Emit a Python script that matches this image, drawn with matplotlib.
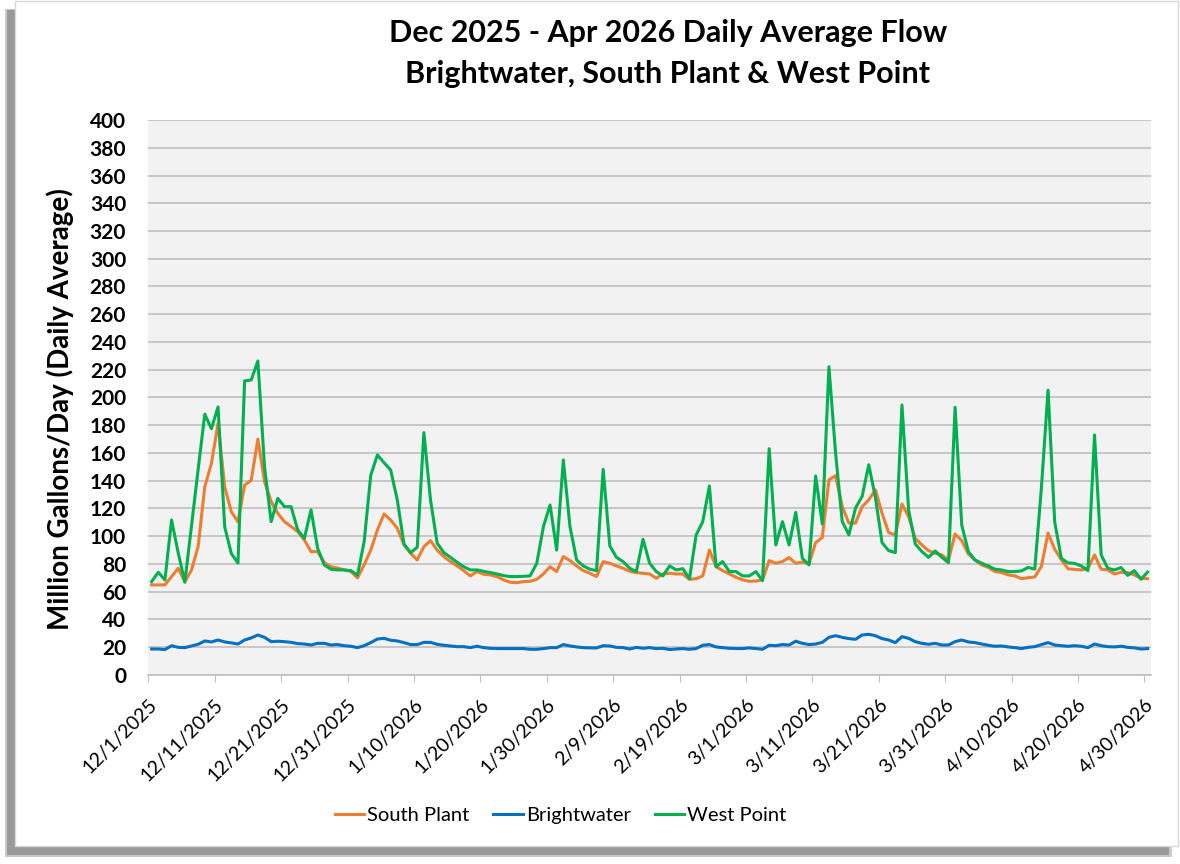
import numpy as np
import matplotlib
matplotlib.use('Agg')
import matplotlib.pyplot as plt
from matplotlib.patches import Rectangle

plt.rcParams['font.family'] = ['Lato', 'DejaVu Sans']

# daily values, 12/1/2025 .. 4/30/2026 (151 days)
south_plant = [
    64.9, 64.9, 64.9, 70.9, 76.9, 67.1, 75.6, 92.4, 135.6, 152.4,
    181.3, 135.6, 117.6, 110.4, 136.8, 140.4, 170.0, 139.3, 125.0, 116.5,
    110.5, 107.0, 103.3, 97.3, 88.9, 88.9, 81.0, 78.0, 77.1, 75.7,
    74.7, 69.9, 79.3, 90.0, 104.5, 116.0, 111.7, 105.7, 93.7, 87.7,
    82.9, 92.5, 96.8, 90.0, 85.3, 81.7, 78.6, 75.2, 71.4, 74.5,
    72.6, 72.1, 70.9, 68.5, 66.8, 66.5, 67.3, 67.5, 68.9, 72.8,
    78.0, 74.5, 85.3, 82.4, 78.6, 75.2, 73.3, 70.9, 81.7, 80.5,
    78.6, 76.9, 74.7, 73.8, 73.3, 72.8, 69.7, 72.8, 73.3, 72.8,
    72.8, 68.9, 69.4, 71.4, 90.0, 78.0, 75.2, 72.8, 70.4, 68.5,
    67.5, 67.7, 68.5, 82.4, 80.5, 81.7, 84.6, 80.5, 81.4, 80.0,
    95.4, 99.0, 140.6, 143.6, 121.5, 109.5, 109.5, 121.2, 126.2, 133.4,
    116.5, 102.6, 100.9, 123.2, 114.1, 98.5, 93.7, 89.6, 87.7, 86.5,
    82.9, 101.6, 96.8, 87.2, 82.9, 79.3, 77.6, 74.5, 73.8, 72.1,
    71.4, 69.4, 70.1, 70.6, 78.3, 102.3, 90.6, 83.1, 76.5, 76.1,
    75.7, 76.9, 86.5, 76.2, 75.7, 72.8, 74.0, 73.8, 72.1, 69.7,
    69.4,
]

brightwater = [
    18.7, 18.7, 18.3, 21.1, 19.9, 19.7, 20.9, 22.1, 24.5, 23.8,
    25.2, 23.8, 23.1, 22.3, 25.2, 26.7, 28.8, 27.1, 24.0, 24.3,
    24.0, 23.5, 22.6, 22.3, 21.6, 22.8, 22.8, 21.6, 21.9, 21.1,
    20.7, 19.7, 21.1, 23.3, 25.9, 26.4, 25.0, 24.5, 23.3, 21.9,
    21.9, 23.5, 23.5, 22.1, 21.4, 20.9, 20.4, 20.4, 19.7, 20.7,
    19.7, 19.2, 19.0, 19.0, 19.0, 19.0, 19.0, 18.5, 18.5, 19.0,
    19.7, 19.7, 21.9, 20.9, 20.2, 19.7, 19.5, 19.5, 21.1, 20.9,
    19.9, 19.7, 18.7, 19.9, 19.2, 19.7, 19.0, 19.2, 18.3, 18.7,
    19.0, 18.5, 19.0, 21.4, 21.9, 20.2, 19.7, 19.2, 19.0, 19.0,
    19.5, 19.0, 18.5, 21.4, 21.1, 21.9, 21.6, 24.3, 22.8, 21.9,
    22.3, 23.5, 27.1, 28.3, 27.1, 26.2, 25.7, 28.8, 29.3, 28.3,
    26.2, 25.2, 23.3, 27.6, 26.4, 24.0, 22.8, 22.1, 22.8, 21.6,
    21.6, 24.0, 25.2, 23.8, 23.3, 22.3, 21.4, 20.7, 20.9, 20.2,
    19.7, 19.0, 19.9, 20.4, 21.9, 23.3, 21.6, 21.1, 20.7, 21.1,
    20.7, 19.7, 22.3, 21.1, 20.4, 20.2, 20.7, 19.9, 19.5, 18.7,
    19.0,
]

west_point = [
    67.3, 74.0, 68.5, 111.7, 88.0, 66.9, 107.5, 148.0, 188.0, 177.5,
    193.2, 106.8, 87.5, 80.7, 212.0, 212.6, 226.3, 150.0, 110.5, 127.3,
    121.3, 121.3, 104.5, 98.5, 119.0, 91.3, 79.3, 76.2, 75.7, 75.7,
    75.2, 72.0, 96.0, 144.0, 158.6, 153.0, 147.7, 126.0, 94.4, 88.2,
    92.0, 174.7, 126.0, 95.0, 88.2, 84.8, 81.2, 78.0, 75.7, 75.7,
    74.7, 73.8, 72.8, 71.6, 70.9, 70.9, 71.1, 71.4, 80.5, 106.9,
    122.5, 90.0, 155.0, 106.9, 82.9, 78.6, 76.2, 75.2, 148.2, 93.0,
    84.8, 81.7, 76.9, 74.5, 97.8, 80.5, 74.5, 71.4, 78.6, 75.7,
    76.6, 69.4, 100.9, 110.5, 136.2, 78.0, 81.7, 74.5, 74.5, 71.4,
    71.4, 74.5, 68.0, 163.1, 93.7, 110.5, 93.7, 117.2, 84.1, 79.3,
    143.4, 108.8, 222.2, 160.0, 110.7, 101.0, 120.3, 128.7, 151.5, 128.0,
    95.4, 89.6, 88.2, 194.6, 118.9, 94.4, 88.9, 84.8, 89.4, 84.8,
    81.0, 192.9, 108.1, 88.9, 82.9, 80.5, 78.6, 76.2, 75.7, 74.5,
    74.5, 75.0, 77.5, 76.3, 135.0, 205.3, 110.4, 84.0, 80.8, 80.4,
    78.6, 75.2, 173.0, 86.5, 76.9, 75.7, 77.4, 71.8, 75.2, 69.0,
    74.2,
]

tick_labels = ['12/1/2025', '12/11/2025', '12/21/2025', '12/31/2025', '1/10/2026',
               '1/20/2026', '1/30/2026', '2/9/2026', '2/19/2026', '3/1/2026',
               '3/11/2026', '3/21/2026', '3/31/2026', '4/10/2026', '4/20/2026',
               '4/30/2026']

fig = plt.figure(figsize=(11.8, 8.64), dpi=100)

# outer frame with drop shadow
fig.patches.append(Rectangle((0.004, 0.008), 0.989, 0.982, transform=fig.transFigure,
                             facecolor='#c9c9c9', edgecolor='none', zorder=-3))
fig.patches.append(Rectangle((0.006, 0.0105), 0.985, 0.978, transform=fig.transFigure,
                             facecolor='#9a9a9a', edgecolor='none', zorder=-2))
fig.patches.append(Rectangle((0.0127, 0.0208), 0.9855, 0.9782, transform=fig.transFigure,
                             facecolor='white', edgecolor='#d9d9d9', lw=1, zorder=-1))

ax = fig.add_axes([0.1257, 0.2188, 0.8497, 0.6423])
ax.set_facecolor('#f2f2f2')

x = np.arange(len(south_plant)) + 0.5
ax.plot(x, south_plant, color='#ed7d31', lw=2.2, label='South Plant')
ax.plot(x, brightwater, color='#0070c0', lw=2.2, label='Brightwater')
ax.plot(x, west_point, color='#00b050', lw=2.2, label='West Point')

ax.set_xlim(0, 151)
ax.set_ylim(0, 400)
ax.set_yticks(np.arange(0, 401, 20))
ax.set_xticks(np.arange(0, 151, 10))
ax.set_xticklabels(tick_labels, rotation=45, ha='right', va='top',
                   rotation_mode='anchor', fontsize=14)
ax.tick_params(axis='x', length=5, color='#bfbfbf', pad=10)
ax.tick_params(axis='y', length=0, pad=16, labelsize=15)
for lab in ax.get_yticklabels():
    lab.set_fontweight('bold')
ax.grid(axis='y', color='#bfbfbf', lw=1.2)
ax.set_axisbelow(True)
for s in ['top', 'right', 'left']:
    ax.spines[s].set_visible(False)
ax.spines['bottom'].set_color('#bfbfbf')
ax.spines['bottom'].set_linewidth(1.2)

fig.text(0.566, 0.962, 'Dec 2025 - Apr 2026 Daily Average Flow', ha='center', va='center',
         fontsize=22, fontweight='bold')
fig.text(0.566, 0.914, 'Brightwater, South Plant & West Point', ha='center', va='center',
         fontsize=22, fontweight='bold')
fig.text(0.051, 0.527, 'Million Gallons/Day (Daily Average)', rotation=90, ha='center',
         va='center', fontsize=20, fontweight='bold')

fig.legend(loc='center', bbox_to_anchor=(0.475, 0.0567), ncol=3, frameon=False,
           fontsize=14.5, handlelength=1.45, handletextpad=0.15, columnspacing=1.2)

fig.savefig('out.png', dpi=100)
